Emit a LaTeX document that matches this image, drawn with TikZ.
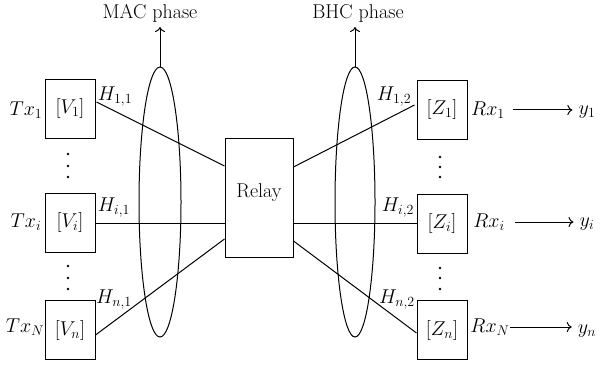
\RequirePackage{fix-cm}
\documentclass[tikz,border=0pt]{standalone}
\usetikzlibrary{arrows.meta,calc}
\begin{document}
\begin{tikzpicture}[x=1pt,y=-1pt,
  every node/.style={font=\fontsize{20}{24}\selectfont},
  bx/.style={draw,line width=1pt,minimum width=50pt,minimum height=59pt,inner sep=0pt},
  relaybox/.style={draw,line width=1pt,minimum width=68pt,minimum height=118pt,inner sep=0pt},
  ln/.style={line width=1pt},
  arr/.style={line width=1pt,-{To[length=5pt,width=10pt]}},
  lbl/.style={inner sep=0pt},
  dotf/.style={fill=black}]
\useasboundingbox (0,0) rectangle (601,366);
% left boxes
\node[bx] (v1) at (70,109) {$[V_1]$};
\node[bx] (vi) at (70,222.5) {$[V_i]$};
\node[bx] (vn) at (70,330) {$[V_n]$};
% relay
\node[relaybox] (relay) at (259,198) {};
\node[lbl] (relaytxt) at (259,193) {Relay};
% right boxes
\node[bx] (z1) at (442,110) {$[Z_1]$};
\node[bx] (zi) at (442,223.5) {$[Z_i]$};
\node[bx] (zn) at (442,330) {$[Z_n]$};
% Tx labels
\node[lbl] (tx1) at (26,110) {$Tx_1$};
\node[lbl] (txi) at (26,222) {$Tx_i$};
\node[lbl] (txn) at (25,327) {$Tx_N$};
% H labels
\node[lbl] (h11) at (115,97) {$H_{1,1}$};
\node[lbl] (hi1) at (114,208) {$H_{i,1}$};
\node[lbl] (hn1) at (114,300) {$H_{n,1}$};
\node[lbl] (h12) at (394,97) {$H_{1,2}$};
\node[lbl] (hi2) at (398,208) {$H_{i,2}$};
\node[lbl] (hn2) at (397,300) {$H_{n,2}$};
% Rx labels and outputs
\node[lbl] (rx1) at (488,110) {$Rx_1$};
\node[lbl] (rxi) at (489,222) {$Rx_i$};
\node[lbl] (rxn) at (490,327) {$Rx_N$};
\node[lbl] (y1) at (587,112) {$y_1$};
\node[lbl] (yi) at (587,224) {$y_i$};
\node[lbl] (yn) at (587,331) {$y_n$};
\draw[arr] ($(rx1.east)+(8,0)$) -- ($(y1.west)+(-6,-2)$);
\draw[arr] ($(rxi.east)+(10,0)$) -- ($(yi.west)+(-6,-2)$);
\draw[arr] ($(rxn.east)+(0,0)$) -- ($(yn.west)+(-6,-4)$);
% links
\draw[ln] ($(v1.east)+(1,-7)$) -- ($(relay.west)+(0,-32)$);
\draw[ln] ($(vi.east)+(0,0.5)$) -- ($(relay.west)+(0,25)$);
\draw[ln] ($(vn.east)+(0,5)$) -- ($(relay.west)+(0,41)$);
\draw[ln] ($(relay.east)+(0,-31)$) -- ($(z1.west)+(-2,-5)$);
\draw[ln] ($(relay.east)+(0,25)$) -- ($(zi.west)+(0,-0.5)$);
\draw[ln] ($(relay.east)+(0,43)$) -- ($(zn.west)+(0,3)$);
% phases
\draw[ln] (160,202) ellipse [x radius=21pt, y radius=135pt];
\draw[ln] (355,202) ellipse [x radius=20pt, y radius=135pt];
\coordinate (mtop) at (160,67);
\coordinate (marr) at (160,27);
\coordinate (btop) at (355,67);
\coordinate (barr) at (355,27);
\draw[arr] (mtop) -- (marr);
\draw[arr] (btop) -- (barr);
\node[lbl] (mac) at (150,13) {MAC phase};
\node[lbl] (bhc) at (358,13) {BHC phase};
% dots
\foreach \yy in {154,166,177,266,278,289} {\fill[dotf] (68,\yy) circle (1.3pt);}
\foreach \yy in {157,167,177,268,278,289} {\fill[dotf] (440,\yy) circle (1.3pt);}
\end{tikzpicture}
\end{document}
